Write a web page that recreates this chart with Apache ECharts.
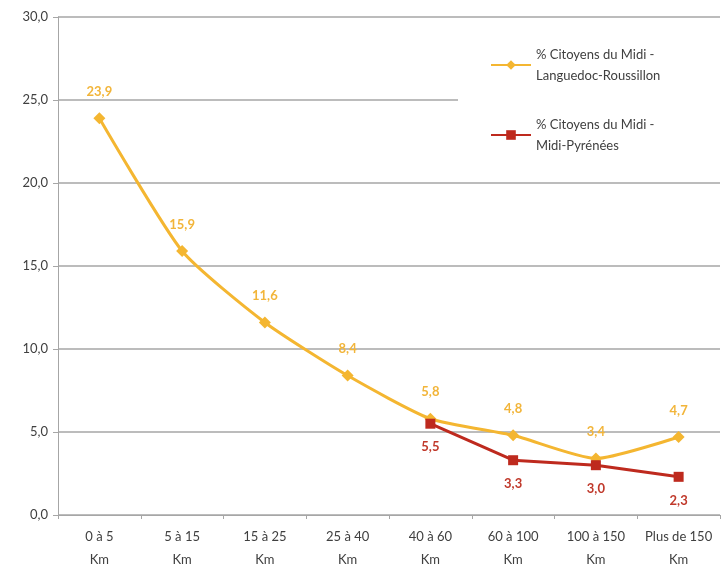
<!DOCTYPE html>
<html><head><meta charset="utf-8">
<script src="https://cdn.jsdelivr.net/npm/echarts@6/dist/echarts.min.js"></script>
<style>html,body{margin:0;padding:0;background:#fff}#c{width:724px;height:571px}</style>
</head><body><div id="c"></div>
<script>
var categories = ['0 à 5\nKm','5 à 15\nKm','15 à 25\nKm','25 à 40\nKm','40 à 60\nKm','60 à 100\nKm','100 à 150\nKm','Plus de 150\nKm'];
var seriesNames = ['% Citoyens du Midi -\nLanguedoc-Roussillon','% Citoyens du Midi -\nMidi-Pyrénées'];
var lrValues = [23.9, 15.9, 11.6, 8.4, 5.8, 4.8, 3.4, 4.7];
var mpValues = [null, null, null, null, 5.5, 3.3, 3.0, 2.3];
var yTicks = {min: 0, max: 30, interval: 5};

var font = 'Lato, "Open Sans", sans-serif';
function fmt(p){ return p.value == null ? '' : Number(p.value).toFixed(1).replace('.', ','); }
var chart = echarts.init(document.getElementById('c'));
chart.setOption({
  backgroundColor: '#fff',
  animation: false,
  grid: {left: 58, right: 4, top: 17, bottom: 55},
  legend: {
    orient: 'vertical', left: 458, top: 34, itemGap: 28, itemWidth: 40, itemHeight: 12,
    backgroundColor: '#fff', padding: [10, 80, 14, 32],
    textStyle: {fontFamily: font, fontSize: 13, color: '#404040', lineHeight: 21},
    data: seriesNames
  },
  xAxis: {
    type: 'category', data: categories, boundaryGap: true,
    axisLine: {lineStyle: {color: '#a6a6a6', width: 1}},
    axisTick: {show: true, alignWithLabel: false, length: 4, lineStyle: {color: '#a6a6a6'}},
    axisLabel: {fontFamily: font, fontSize: 13, color: '#404040', lineHeight: 23, margin: 10, interval: 0}
  },
  yAxis: {
    type: 'value', min: yTicks.min, max: yTicks.max, interval: yTicks.interval,
    axisLine: {show: true, lineStyle: {color: '#a6a6a6'}},
    axisTick: {show: true, length: 5, lineStyle: {color: '#a6a6a6'}},
    axisLabel: {fontFamily: font, fontSize: 13, color: '#404040', formatter: function(v){return v.toFixed(1).replace('.', ',');}, margin: 10},
    splitLine: {lineStyle: {color: '#a6a6a6', width: 1.5}}
  },
  series: [
    {
      name: seriesNames[0], type: 'line', data: lrValues, smooth: 0.2,
      symbol: 'diamond', symbolSize: 12,
      lineStyle: {color: '#F4B631', width: 3},
      itemStyle: {color: '#F4B631'},
      label: {show: true, position: 'top', distance: 14, formatter: fmt, color: '#F2B53A', fontFamily: font, fontWeight: 'bold', fontSize: 13},
      z: 3
    },
    {
      name: seriesNames[1], type: 'line', data: mpValues,
      symbol: 'rect', symbolSize: 10,
      lineStyle: {color: '#BE2A1E', width: 3},
      itemStyle: {color: '#BE2A1E'},
      label: {show: true, position: 'bottom', distance: 12, formatter: fmt, color: '#C0392B', fontFamily: font, fontWeight: 'bold', fontSize: 13},
      z: 4
    }
  ]
});
</script></body></html>
